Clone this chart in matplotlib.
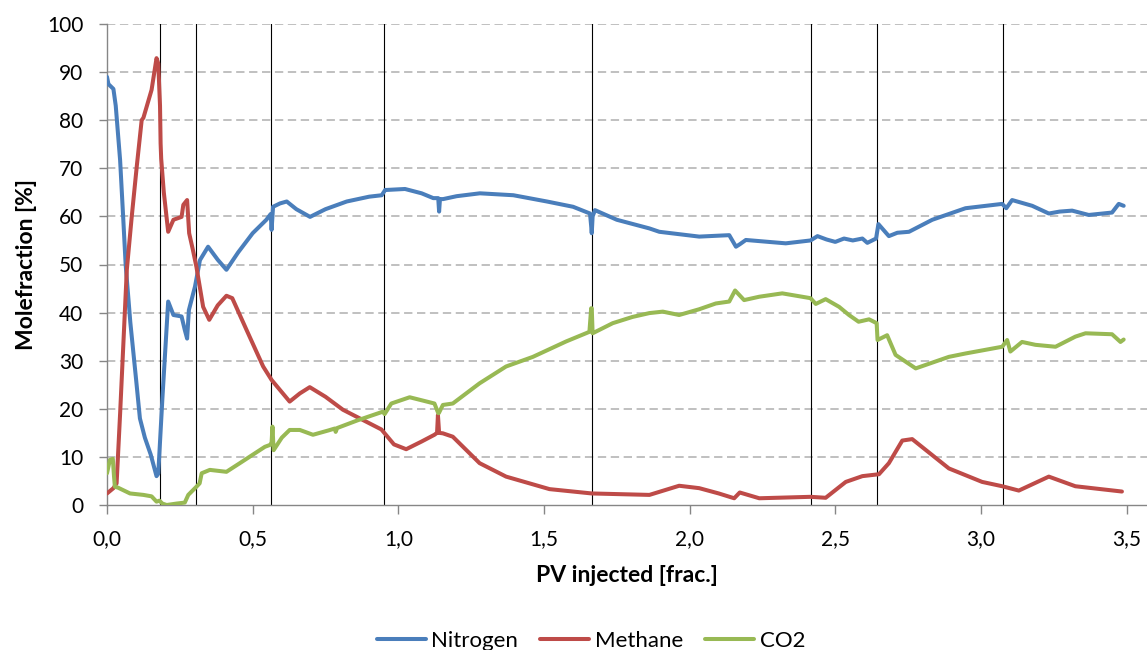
import matplotlib
matplotlib.use("Agg")
import matplotlib.pyplot as plt
from matplotlib.ticker import FuncFormatter, MultipleLocator

# ---------------- data ----------------
n2_x = [0, 0.005, 0.022, 0.03, 0.045, 0.056, 0.064, 0.08, 0.1, 0.113, 0.13, 0.15, 0.17, 0.176,
        0.19, 0.21, 0.228, 0.256, 0.267, 0.275, 0.281, 0.302, 0.319, 0.347, 0.38, 0.41, 0.45,
        0.5, 0.547, 0.562, 0.565, 0.57, 0.594, 0.617, 0.65, 0.697, 0.75, 0.823, 0.9, 0.943,
        0.955, 0.96, 1.023, 1.08, 1.12, 1.137, 1.14, 1.143, 1.154, 1.2, 1.28, 1.395, 1.51,
        1.6, 1.658, 1.662, 1.664, 1.667, 1.675, 1.75, 1.862, 1.896, 2.033, 2.136, 2.159,
        2.172, 2.193, 2.33, 2.415, 2.439, 2.47, 2.50, 2.53, 2.56, 2.593, 2.61, 2.64, 2.648,
        2.684, 2.713, 2.753, 2.833, 2.947, 3.073, 3.087, 3.107, 3.176, 3.233, 3.27, 3.313,
        3.37, 3.45, 3.473, 3.49]
n2_y = [89, 87.5, 86.5, 83, 71.7, 59.3, 50, 38, 26, 18, 14, 10.5, 6, 6.5,
        22, 42.3, 39.5, 39.2, 36.4, 34.6, 40.5, 45.4, 50.9, 53.7, 51, 48.9, 52.5,
        56.5, 59.3, 60.5, 57.2, 62, 62.7, 63.1, 61.5, 59.9, 61.5, 63.1, 64.1, 64.4,
        65.5, 65.5, 65.7, 64.8, 63.8, 63.8, 61, 63.6, 63.6, 64.2, 64.8, 64.4, 63.1,
        62, 60.6, 58, 56.5, 60, 61.3, 59.3, 57.5, 56.8, 55.8, 56.1, 53.7,
        54.2, 55.1, 54.4, 55, 55.9, 55.2, 54.7, 55.4, 55, 55.4, 54.5, 55.4, 58.4,
        55.9, 56.6, 56.8, 59.3, 61.7, 62.6, 61.7, 63.4, 62.2, 60.6, 61, 61.2,
        60.3, 60.8, 62.6, 62.2]

ch4_x = [0, 0.022, 0.033, 0.045, 0.068, 0.085, 0.102, 0.119, 0.125, 0.153, 0.17, 0.176,
         0.182, 0.184, 0.186, 0.195, 0.21, 0.228, 0.256, 0.262, 0.275, 0.282, 0.295, 0.307,
         0.33, 0.351, 0.38, 0.41, 0.43, 0.479, 0.536, 0.565, 0.627, 0.662, 0.696, 0.75,
         0.81, 0.942, 0.985, 1.027, 1.08, 1.124, 1.133, 1.136, 1.14, 1.153, 1.187, 1.279,
         1.37, 1.519, 1.664, 1.862, 1.964, 2.033, 2.10, 2.153, 2.172, 2.239, 2.415, 2.467,
         2.536, 2.593, 2.65, 2.684, 2.73, 2.764, 2.89, 3.004, 3.073, 3.13, 3.233, 3.324,
         3.484]
ch4_y = [2.4, 3.5, 4.5, 19, 48.9, 60, 70.3, 80, 80.5, 86.3, 92.9, 91.8,
         83, 75.2, 72, 65, 56.8, 59.3, 59.9, 62.4, 63.4, 56.5, 53, 49.5,
         41.2, 38.5, 41.5, 43.5, 43, 36.4, 28.8, 26, 21.5, 23.2, 24.5, 22.5,
         19.8, 15.7, 12.6, 11.6, 13.2, 14.6, 15, 18.7, 15, 14.9, 14.2, 8.7,
         5.9, 3.3, 2.4, 2.1, 4.0, 3.5, 2.4, 1.4, 2.6, 1.4, 1.7, 1.5,
         4.8, 6.0, 6.4, 8.7, 13.4, 13.7, 7.6, 4.8, 3.9, 3.0, 5.9, 3.9,
         2.8]

co2_x = [0, 0.01, 0.02, 0.024, 0.027, 0.038, 0.079, 0.125, 0.153, 0.17, 0.18, 0.19, 0.205,
         0.239, 0.267, 0.279, 0.307, 0.318, 0.325, 0.353, 0.41, 0.456, 0.542, 0.56, 0.565,
         0.568, 0.572, 0.6, 0.627, 0.662, 0.707, 0.76, 0.782, 0.785, 0.79, 0.86, 0.947,
         0.953, 0.976, 1.039, 1.124, 1.137, 1.139, 1.153, 1.187, 1.279, 1.37, 1.462, 1.576,
         1.656, 1.662, 1.664, 1.667, 1.736, 1.804, 1.862, 1.908, 1.964, 2.033, 2.09, 2.136,
         2.156, 2.187, 2.239, 2.318, 2.415, 2.433, 2.467, 2.513, 2.547, 2.58, 2.616, 2.642,
         2.645, 2.678, 2.707, 2.776, 2.89, 2.947, 3.073, 3.09, 3.101, 3.141, 3.187, 3.256,
         3.324, 3.359, 3.45, 3.479, 3.49]
co2_y = [6.6, 9.4, 9.6, 6, 3.8, 3.6, 2.4, 2.1, 1.8, 0.7, 0.9, 0.3, 0,
         0.3, 0.5, 2.1, 3.8, 4.5, 6.6, 7.3, 6.9, 8.7, 12.1, 12.5, 13,
         16.3, 11.4, 14, 15.6, 15.6, 14.6, 15.5, 15.9, 15.2, 16, 17.6, 19.4,
         18.9, 21.1, 22.4, 21.1, 19.1, 19.1, 20.8, 21.1, 25.3, 28.8, 30.8, 34.0,
         36.0, 40.9, 40.9, 35.7, 37.8, 39.1, 39.9, 40.2, 39.5, 40.7, 41.9, 42.3,
         44.6, 42.6, 43.3, 44.0, 43.0, 41.8, 42.8, 41.2, 39.5, 38.1, 38.6, 37.8,
         34.3, 35.3, 31.2, 28.4, 30.8, 31.5, 32.9, 34.3, 31.9, 33.9, 33.3, 32.9,
         35.0, 35.7, 35.5, 33.9, 34.4]

event_x = [0.182, 0.306, 0.563, 0.951, 1.665, 2.417, 2.643, 3.076]

series_names = ["Nitrogen", "Methane", "CO2"]
series_colors = ["#4A7EBB", "#BE4B48", "#98B954"]

x_label = "PV injected [frac.]"
y_label = "Molefraction [%]"

# ---------------- plot ----------------
plt.rcParams['font.family'] = ['Lato', 'DejaVu Sans']
plt.rcParams['lines.scale_dashes'] = False

W, H = 1147, 650
fig = plt.figure(figsize=(W / 100, H / 100), dpi=100)
ax = fig.add_axes([107 / W, 1 - 505 / H, (W - 107) / W, (505 - 24) / H])

xmax = 3.5 + (W - 1126.6) / 291.3
ax.set_xlim(0, xmax)
ax.set_ylim(0, 100)

ax.yaxis.set_major_locator(MultipleLocator(10))
ax.xaxis.set_major_locator(MultipleLocator(0.5))
ax.xaxis.set_major_formatter(FuncFormatter(lambda v, p: f"{v:.1f}".replace(".", ",") if v <= 3.5001 else ""))

for yv in range(10, 101, 10):
    ax.axhline(yv, color="#AFAFAF", lw=1.1, dashes=(6, 3.3), zorder=1)

for xv in event_x:
    ax.axvline(xv, color="#000000", lw=0.8, zorder=2)

for xs, ys, name, col in zip([n2_x, ch4_x, co2_x], [n2_y, ch4_y, co2_y], series_names, series_colors):
    ax.plot(xs, ys, color=col, lw=2.9, label=name, solid_joinstyle="round",
            solid_capstyle="round", zorder=3)

for s in ["top", "right"]:
    ax.spines[s].set_visible(False)
for s in ["left", "bottom"]:
    ax.spines[s].set_color("#868686")
    ax.spines[s].set_linewidth(1.0)

ax.tick_params(axis="both", colors="#868686", labelcolor="#000000", labelsize=15, width=1.0)
ax.tick_params(axis="y", length=6, pad=11)
ax.tick_params(axis="x", length=6.5, pad=10.5)

ax.set_xlabel(x_label, fontsize=16.5, fontweight="bold", labelpad=12)
ax.set_ylabel(y_label, fontsize=16.5, fontweight="bold", labelpad=7)

fig.legend(loc="center", bbox_to_anchor=(591 / W, 1 - 641 / H), ncol=3, frameon=False,
           fontsize=16, handlelength=2.2, handletextpad=0.25, columnspacing=1.0)

fig.savefig("out.png", dpi=100)
